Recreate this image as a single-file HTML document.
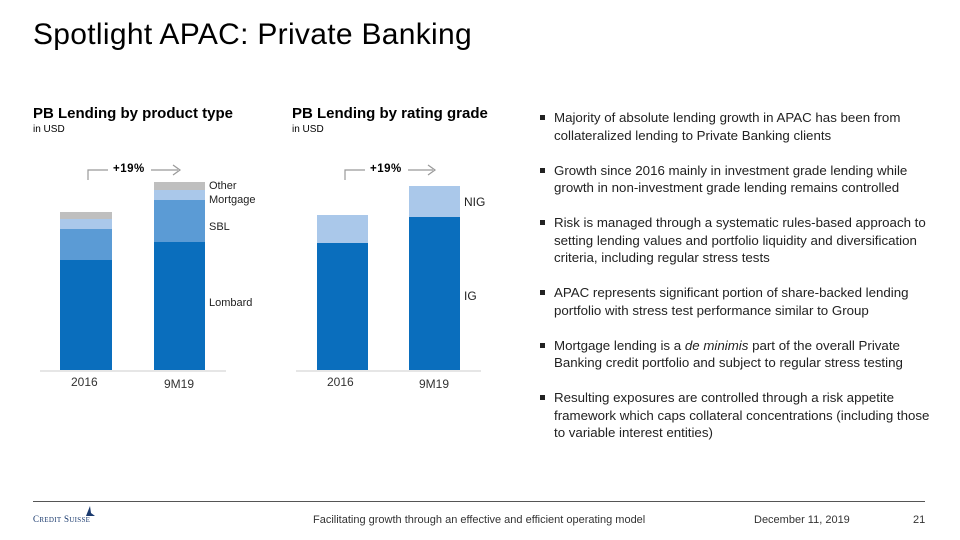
<!DOCTYPE html>
<html><head><meta charset="utf-8"><style>
body{margin:0;width:960px;height:540px;background:#fff;font-family:"Liberation Sans",sans-serif;color:#000;position:relative;overflow:hidden}
.a{position:absolute;white-space:nowrap}
.b{position:absolute}
.dk{background:#0a6ebd}.md{background:#5b9bd5}.lt{background:#aac8ea}.gr{background:#bfbfbf}
.bul{position:absolute;left:540px;width:400px;font-size:13.3px;line-height:17.5px;color:#222}
.bul div{position:relative;padding-left:14px;margin-bottom:17.5px}
.bul div:before{content:"";position:absolute;left:0;top:6px;width:5px;height:5px;background:#222}
.lab{font-size:11px;color:#222}
</style></head><body>
<div class="a" style="left:33px;top:18px;font-size:30px;letter-spacing:0.3px">Spotlight APAC: Private Banking</div>

<div class="a" style="left:33px;top:105px;font-size:15px;font-weight:bold">PB Lending by product type</div>
<div class="a" style="left:33px;top:124px;font-size:10px">in USD</div>
<div class="a" style="left:292px;top:105px;font-size:15px;font-weight:bold">PB Lending by rating grade</div>
<div class="a" style="left:292px;top:124px;font-size:10px">in USD</div>

<svg class="b" style="left:0;top:0" width="960" height="540">
<path d="M88,180 V170 H108 M151,170 H178 M173,165 L180,170 L173,175" fill="none" stroke="#999" stroke-width="1.2"/>
<path d="M345,180 V170 H365 M408,170 H433 M428,165 L435,170 L428,175" fill="none" stroke="#999" stroke-width="1.2"/>
<line x1="40" y1="371" x2="226" y2="371" stroke="#ccc"/>
<line x1="296" y1="371" x2="481" y2="371" stroke="#ccc"/>
</svg>
<div class="a" style="left:113px;top:163px;font-size:11.5px;font-weight:bold;letter-spacing:0.5px">+19%</div>
<div class="a" style="left:370px;top:163px;font-size:11.5px;font-weight:bold;letter-spacing:0.5px">+19%</div>

<div class="b gr" style="left:60px;top:212px;width:52px;height:7px"></div>
<div class="b lt" style="left:60px;top:219px;width:52px;height:10px"></div>
<div class="b md" style="left:60px;top:229px;width:52px;height:31px"></div>
<div class="b dk" style="left:60px;top:260px;width:52px;height:110px"></div>

<div class="b gr" style="left:154px;top:182px;width:51px;height:8px"></div>
<div class="b lt" style="left:154px;top:190px;width:51px;height:10px"></div>
<div class="b md" style="left:154px;top:200px;width:51px;height:42px"></div>
<div class="b dk" style="left:154px;top:242px;width:51px;height:128px"></div>

<div class="a lab" style="left:209px;top:180px">Other</div>
<div class="a lab" style="left:209px;top:194px">Mortgage</div>
<div class="a lab" style="left:209px;top:221px">SBL</div>
<div class="a lab" style="left:209px;top:297px">Lombard</div>
<div class="a" style="left:71px;top:375px;font-size:12px;color:#333">2016</div>
<div class="a" style="left:164px;top:377px;font-size:12px;color:#333">9M19</div>

<div class="b lt" style="left:317px;top:215px;width:51px;height:28px"></div>
<div class="b dk" style="left:317px;top:243px;width:51px;height:127px"></div>
<div class="b lt" style="left:409px;top:186px;width:51px;height:31px"></div>
<div class="b dk" style="left:409px;top:217px;width:51px;height:153px"></div>
<div class="a" style="left:464px;top:195px;font-size:12px;color:#222">NIG</div>
<div class="a" style="left:464px;top:289px;font-size:12px;color:#222">IG</div>
<div class="a" style="left:327px;top:375px;font-size:12px;color:#333">2016</div>
<div class="a" style="left:419px;top:377px;font-size:12px;color:#333">9M19</div>

<div class="bul" style="top:109px">
<div>Majority of absolute lending growth in APAC has been from collateralized lending to Private Banking clients</div>
<div>Growth since 2016 mainly in investment grade lending while growth in non-investment grade lending remains controlled</div>
<div>Risk is managed through a systematic rules-based approach to setting lending values and portfolio liquidity and diversification criteria, including regular stress tests</div>
<div>APAC represents significant portion of share-backed lending portfolio with stress test performance similar to Group</div>
<div>Mortgage lending is a <i>de minimis</i> part of the overall Private Banking credit portfolio and subject to regular stress testing</div>
<div>Resulting exposures are controlled through a risk appetite framework which caps collateral concentrations (including those to variable interest entities)</div>
</div>

<div class="b" style="left:33px;top:501px;width:892px;height:1px;background:#555"></div>
<div class="a" style="left:33px;top:514px;font-size:9px;color:#1a3a6e;font-family:'Liberation Serif',serif;letter-spacing:0.3px">C<span style="font-size:7px">REDIT</span> S<span style="font-size:7px">UISSE</span></div>
<svg class="b" style="left:84px;top:505px" width="12" height="12"><path d="M2,11 L6,1 L7,8 L11,11 Z" fill="#1a3a6e"/></svg>
<div class="a" style="left:313px;top:514px;font-size:11px;color:#333">Facilitating growth through an effective and efficient operating model</div>
<div class="a" style="left:754px;top:514px;font-size:11px;color:#333">December 11, 2019</div>
<div class="a" style="left:913px;top:514px;font-size:11px;color:#333">21</div>
</body></html>
